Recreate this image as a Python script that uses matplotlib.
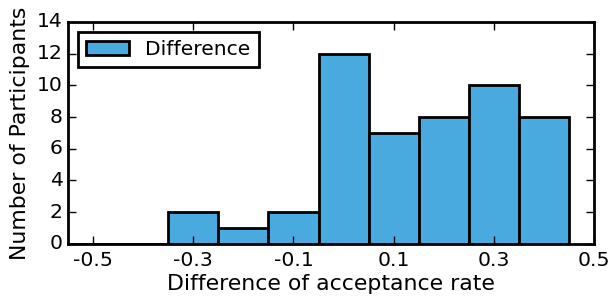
import matplotlib
matplotlib.use("Agg")
import matplotlib.pyplot as plt
import numpy as np

plt.style.use("classic")
plt.rcParams["font.family"] = ["DejaVu Sans"]

bin_edges = [-0.55, -0.45, -0.35, -0.25, -0.15, -0.05, 0.05, 0.15, 0.25, 0.35, 0.45]
counts = [0, 0, 2, 1, 2, 12, 7, 8, 10, 8]
xticks = [-0.5, -0.3, -0.1, 0.1, 0.3, 0.5]
xtick_labels = ["-0.5", "-0.3", "-0.1", "0.1", "0.3", "0.5"]
yticks = [0, 2, 4, 6, 8, 10, 12, 14]

fig = plt.figure(figsize=(6.08, 3.01), dpi=100, facecolor="white")
ax = fig.add_axes([0.112, 0.19, 0.865, 0.737])
ax.set_facecolor("white")

edges = np.array(bin_edges)
centers = (edges[:-1] + edges[1:]) / 2
ax.hist(centers, bins=edges, weights=counts, color="#48aade", edgecolor="black",
        linewidth=2, label="Difference")

ax.set_xlim(-0.55, 0.5)
ax.set_ylim(0, 14)
ax.set_xticks(xticks)
ax.set_xticklabels(xtick_labels)
ax.set_yticks(yticks)
ax.tick_params(labelsize=14.7, width=1, length=6)
ax.tick_params(axis="x", pad=5)
for s in ax.spines.values():
    s.set_linewidth(2)
ax.set_xlabel("Difference of acceptance rate", fontsize=15.8, labelpad=3)
ax.set_ylabel("Number of Participants", fontsize=15.8)
leg = ax.legend(loc="upper left", fontsize=14.6, frameon=True, fancybox=False,
                handlelength=2.1)
leg.get_frame().set_linewidth(2)
leg.get_frame().set_edgecolor("black")

fig.savefig("out.png", dpi=100, facecolor="white")
